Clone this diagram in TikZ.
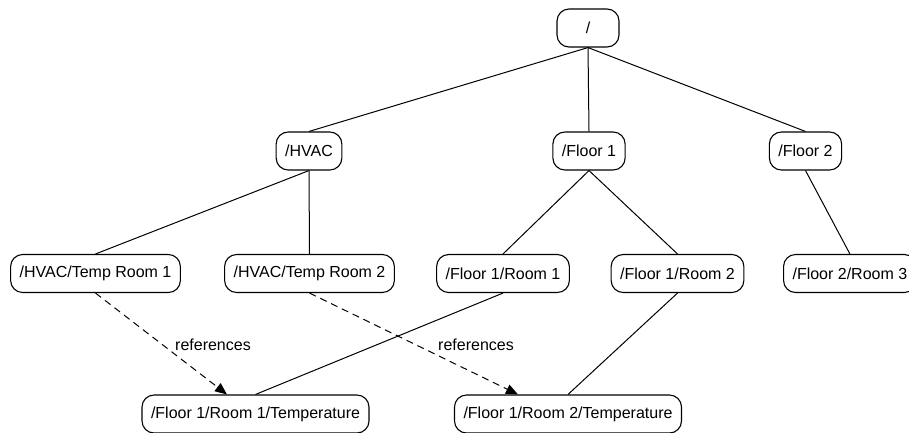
\documentclass[tikz,border=0pt]{standalone}
\usepackage{fontspec}
\setmainfont{Liberation Sans}
\usetikzlibrary{arrows.meta,calc}
\begin{document}
\begin{tikzpicture}[x=1pt,y=-1pt,
  box/.style={draw, line width=1.1pt, rounded corners=12pt, minimum height=38pt,
    minimum width=62pt, inner xsep=9pt, font=\fontsize{16}{19}\selectfont},
  tree/.style={line width=1pt},
  refline/.style={line width=1pt, dash pattern=on 7pt off 5pt,
    -{Triangle[length=12pt,width=10pt]}},
  lbl/.style={font=\fontsize{16}{19}\selectfont, inner sep=1pt}]
\useasboundingbox (0,0) rectangle (909,432);
\node[box] (root) at (588,28) {/};
\node[box] (hvac) at (309,151) {/HVAC};
\node[box] (f1) at (589,151) {/Floor 1};
\node[box] (f2) at (805.5,151) {/Floor 2};
\node[box] (tr1) at (95.5,273.5) {/HVAC/Temp Room 1};
\node[box] (tr2) at (309.5,273.5) {/HVAC/Temp Room 2};
\node[box] (r1) at (503,273.5) {/Floor 1/Room 1};
\node[box] (r2) at (677.5,273.5) {/Floor 1/Room 2};
\node[box, anchor=west] (r3) at (783,273.5) {/Floor 2/Room 3};
\node[box] (t1) at (255.5,414) {/Floor 1/Room 1/Temperature};
\node[box] (t2) at (568,414) {/Floor 1/Room 2/Temperature};
\draw[tree] (root.south) -- (hvac.north);
\draw[tree] (root.south) -- (f1.north);
\draw[tree] (root.south) -- (f2.north);
\draw[tree] (hvac.south) -- (tr1.north);
\draw[tree] (hvac.south) -- (tr2.north);
\draw[tree] (f1.south) -- (r1.north);
\draw[tree] (f1.south) -- (r2.north);
\draw[tree] (f2.south) -- (r3.north);
\draw[tree] (r1.south) -- (t1.north);
\draw[tree] (r2.south) -- (t2.north);
\coordinate (a1) at ($(t1.north)+(-28.5,0)$);
\coordinate (a2) at ($(t2.north)+(-50,0)$);
\draw[refline] (tr1.south) -- (a1);
\draw[refline] (tr2.south) -- (a2);
\node[lbl] (l1) at (213,345) {references};
\node[lbl] (l2) at (476,345) {references};
\end{tikzpicture}
\end{document}
